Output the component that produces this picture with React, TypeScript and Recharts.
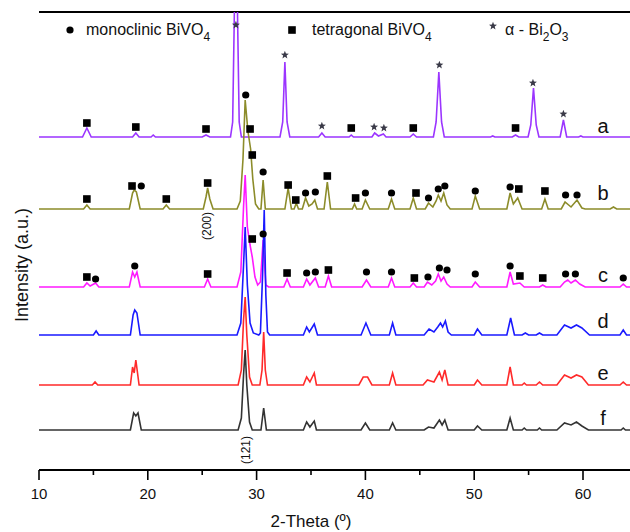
import React from "react";
import { ComposedChart, Line, Scatter, XAxis, YAxis, ReferenceLine } from "recharts";

// 2-Theta positions (deg) and peak heights above each pattern's own baseline (a.u.)
const PATTERN_A: [number, number][] = [
  [10, 0], [14.0, 0], [14.4, 9], [14.8, 0], [18.6, 0], [18.9, 4], [19.2, 0], [20.3, 0], [20.5, 2], [20.7, 0],
  [25.0, 0], [25.35, 2], [25.7, 0], [27.6, 0], [27.8, 15], [27.95, 120], [28.1, 260], [28.25, 120], [28.4, 15], [28.6, 0],
  [32.15, 0], [32.4, 15], [32.6, 75], [32.8, 15], [33.05, 0], [35.7, 0], [36.0, 4], [36.3, 0], [38.5, 0], [38.7, 2], [38.9, 0],
  [40.6, 0], [40.85, 4], [41.2, 1], [41.65, 3], [41.9, 0], [44.1, 0], [44.4, 3], [44.7, 0],
  [46.25, 0], [46.5, 15], [46.75, 65], [47.0, 15], [47.25, 0], [51.5, 0], [51.7, 1], [51.9, 0], [53.5, 0], [53.8, 2], [54.1, 0],
  [54.95, 0], [55.2, 12], [55.45, 49], [55.7, 12], [55.95, 0], [57.9, 0], [58.2, 17], [58.5, 0], [59.6, 0], [59.8, 1], [60.0, 0], [65, 0],
];
const PATTERN_B: [number, number][] = [
  [10, 0], [14.1, 0], [14.4, 4], [14.7, 0], [18.3, 0], [18.6, 16], [18.75, 19], [18.95, 17], [19.3, 0],
  [21.4, 0], [21.7, 4], [22.0, 0], [25.1, 0], [25.35, 12], [25.5, 21], [25.7, 10], [26.0, 0],
  [28.2, 0], [28.5, 8], [28.75, 50], [28.95, 109], [29.2, 78], [29.45, 60], [29.65, 30], [29.9, 5], [30.2, 0],
  [30.4, 0], [30.6, 29], [30.8, 0], [32.6, 0], [32.9, 21], [33.2, 0], [33.45, 0], [33.65, 6], [33.85, 0],
  [34.2, 0], [34.5, 11], [34.8, 3], [35.1, 5], [35.35, 9], [35.6, 0], [36.2, 0], [36.5, 27], [36.8, 0],
  [38.8, 0], [39.0, 5], [39.2, 0], [39.7, 0], [40.0, 9], [40.4, 0], [42.1, 0], [42.4, 10], [42.7, 0], [44.1, 0], [44.4, 11], [44.7, 0],
  [45.5, 0], [45.8, 6], [46.2, 2], [46.5, 8], [46.7, 14], [46.95, 8], [47.2, 16], [47.5, 4], [47.8, 0],
  [49.8, 0], [50.1, 13], [50.5, 0], [53.0, 0], [53.3, 16], [53.6, 5], [54.0, 11], [54.4, 0], [56.2, 0], [56.5, 10], [56.8, 0],
  [58.0, 0], [58.35, 7], [58.9, 2], [59.45, 9], [59.9, 1], [60.2, 0], [62.5, 0], [62.8, 2], [63.1, 0], [65, 0],
];
const PATTERN_C: [number, number][] = [
  [10, 0], [14.1, 0], [14.4, 4], [14.7, 1], [15.2, 4], [15.5, 0], [18.3, 0], [18.6, 15], [18.8, 10], [19.0, 15], [19.3, 0],
  [25.2, 0], [25.5, 8], [25.8, 0], [28.2, 0], [28.55, 15], [28.8, 80], [28.95, 112], [29.15, 60], [29.4, 42], [29.6, 30], [29.85, 10], [30.1, 2],
  [30.35, 5], [30.6, 47], [30.85, 2], [31.1, 0], [32.5, 0], [32.8, 8], [33.1, 0],
  [34.3, 0], [34.6, 8], [34.9, 2], [35.4, 9], [35.7, 0], [36.3, 0], [36.6, 11], [36.9, 0],
  [39.7, 0], [40.1, 7], [40.5, 0], [42.1, 0], [42.4, 9], [42.7, 0], [44.1, 0], [44.4, 4], [44.7, 0],
  [45.4, 0], [45.7, 5], [46.1, 2], [46.45, 6], [46.7, 13], [46.95, 6], [47.2, 10], [47.5, 3], [47.8, 0],
  [49.8, 0], [50.1, 5], [50.5, 0], [53.0, 0], [53.3, 15], [53.6, 3], [54.2, 4], [54.6, 0], [56.0, 0], [56.3, 2], [56.6, 0],
  [57.9, 0], [58.3, 5], [58.6, 7], [58.9, 4], [59.3, 7], [59.7, 3], [60.2, 0], [63.4, 0], [63.7, 3], [64.0, 0], [65, 0],
];
const PATTERN_D: [number, number][] = [
  [10, 0], [15.0, 0], [15.25, 4], [15.5, 0], [18.4, 0], [18.65, 20], [18.8, 25], [19.0, 22], [19.3, 0],
  [28.2, 0], [28.55, 12], [28.8, 70], [28.95, 108], [29.15, 50], [29.4, 12], [29.7, 2], [30.2, 0],
  [30.35, 2], [30.55, 60], [30.7, 125], [30.85, 40], [31.0, 3], [31.2, 0],
  [34.3, 0], [34.6, 8], [34.85, 3], [35.3, 11], [35.6, 0], [39.6, 0], [40.05, 12], [40.5, 0], [42.2, 0], [42.5, 12], [42.8, 0],
  [45.4, 0], [45.85, 6], [46.3, 3], [46.65, 8], [46.9, 12], [47.1, 8], [47.35, 14], [47.6, 3], [47.9, 0],
  [50.0, 0], [50.3, 6], [50.7, 0], [53.0, 0], [53.35, 17], [53.7, 0], [54.4, 0], [54.7, 2], [55.0, 0], [55.7, 0], [56.0, 2], [56.3, 0],
  [57.6, 0], [58.3, 10], [58.9, 7], [59.4, 10], [59.9, 7], [60.6, 0], [63.4, 0], [63.7, 5], [64.0, 0], [65, 0],
];
const PATTERN_E: [number, number][] = [
  [10, 0], [14.9, 0], [15.15, 3], [15.4, 0], [18.4, 0], [18.6, 18], [18.75, 12], [18.9, 25], [19.2, 0],
  [28.3, 0], [28.6, 15], [28.8, 65], [28.95, 88], [29.1, 50], [29.35, 8], [29.6, 0],
  [30.3, 0], [30.5, 15], [30.65, 53], [30.8, 15], [31.0, 0],
  [34.3, 0], [34.6, 8], [34.9, 3], [35.3, 12], [35.5, 0], [39.4, 0], [39.8, 8], [40.2, 8], [40.6, 0], [42.2, 0], [42.5, 12], [42.8, 0],
  [45.3, 0], [45.7, 5], [46.0, 4], [46.3, 3], [46.8, 13], [47.05, 5], [47.3, 15], [47.6, 0],
  [50.0, 0], [50.3, 5], [50.7, 0], [53.0, 0], [53.3, 18], [53.6, 0], [54.4, 0], [54.6, 2], [54.8, 0], [55.7, 0], [56.0, 3], [56.3, 0],
  [57.6, 0], [58.3, 10], [58.9, 7], [59.4, 10], [59.9, 8], [60.5, 0], [63.4, 0], [63.7, 3], [64.0, 0], [65, 0],
];
const PATTERN_F: [number, number][] = [
  [10, 0], [18.4, 0], [18.7, 17], [18.9, 14], [19.1, 17], [19.4, 0],
  [28.3, 0], [28.6, 12], [28.8, 55], [28.95, 80], [29.1, 45], [29.35, 8], [29.6, 0],
  [30.4, 0], [30.65, 22], [30.9, 0], [34.3, 0], [34.6, 8], [34.9, 3], [35.3, 9], [35.5, 0],
  [39.6, 0], [40.0, 7], [40.4, 0], [42.2, 0], [42.5, 7], [42.8, 0],
  [45.4, 0], [45.8, 3], [46.3, 2], [46.8, 10], [47.05, 5], [47.3, 10], [47.6, 0],
  [50.0, 0], [50.3, 4], [50.7, 0], [53.0, 0], [53.3, 12], [53.6, 0], [54.4, 0], [54.6, 2], [54.8, 0], [55.8, 0], [56.0, 2], [56.2, 0],
  [57.6, 0], [58.3, 7], [58.9, 5], [59.4, 8], [59.9, 4], [60.5, 0], [63.5, 0], [63.7, 2], [63.9, 0], [65, 0],
];

// vertical stacking offsets of patterns a..f
const OFFSETS = [333, 261, 183, 135, 85, 40];
const LETTERS = ["a", "b", "c", "d", "e", "f"];
const LETTER_Y = [337, 270, 188, 142, 90, 45];
const COLORS = ["#9b35ff", "#8c8c2a", "#ff1aff", "#1a1aff", "#ff2a2a", "#333333"];

// phase markers [2-Theta, height in stacked units]
const STARS: [number, number][] = [
  [28.1, 445], [32.6, 415], [36.0, 344], [40.8, 343], [41.7, 342], [46.8, 405], [55.4, 387], [58.2, 356],
];
const SQUARES: [number, number][] = [
  [14.4, 347], [18.9, 343], [25.35, 341], [29.4, 341], [38.7, 342], [44.4, 342], [53.8, 342],
  [14.4, 271], [18.55, 284], [21.7, 271], [25.5, 287], [29.6, 315], [32.9, 285], [33.6, 270], [36.5, 294], [39.1, 272], [44.65, 277], [54.1, 281], [56.5, 279],
  [14.4, 193], [25.5, 196], [29.6, 231], [32.8, 197], [36.6, 200], [44.5, 192], [54.2, 194], [56.3, 192],
];
const DOTS: [number, number][] = [
  [19.4, 284], [29.0, 375], [30.6, 298], [34.5, 277], [35.4, 278], [40.0, 277], [42.4, 277], [45.8, 272], [46.7, 281], [47.3, 284], [50.1, 279], [53.3, 283], [58.4, 275], [59.45, 275],
  [15.2, 191], [18.8, 204], [30.6, 236], [34.6, 197], [35.4, 198], [40.1, 198], [42.4, 198], [45.75, 193], [46.8, 202], [47.5, 200], [50.1, 196], [53.3, 204], [58.4, 196], [59.3, 196], [63.7, 192],
];
const ANNOTATIONS: { x: number; y: number; t: string }[] = [
  { x: 25.44, y: 244, t: "(200)" },
  { x: 29.07, y: 20, t: "(121)" },
];
const X_TICKS = [10, 15, 20, 25, 30, 35, 40, 45, 50, 55, 60];

const PATTERNS = [PATTERN_A, PATTERN_B, PATTERN_C, PATTERN_D, PATTERN_E, PATTERN_F];
const FONT = "'Liberation Sans', Arial, sans-serif";

const rows = (pts: [number, number][], off = 0) => pts.map(([x, h]) => ({ x, y: h + off }));

const AxisTick = (props: any) => {
  const { x, y, payload } = props;
  const major = payload.value % 10 === 0;
  return (
    <g>
      <line x1={x} y1={y} x2={x} y2={y + (major ? 10 : 5)} stroke="#000" strokeWidth={1.6} />
      {major && (
        <text x={x} y={y + 29} textAnchor="middle" fontSize={15} fontFamily={FONT} fill="#111">
          {payload.value}
        </text>
      )}
    </g>
  );
};

const starPoints = (cx: number, cy: number, R: number, r: number) => {
  const p: string[] = [];
  for (let i = 0; i < 10; i++) {
    const a = -Math.PI / 2 + (i * Math.PI) / 5;
    const rad = i % 2 === 0 ? R : r;
    p.push(`${cx + rad * Math.cos(a)},${cy + rad * Math.sin(a)}`);
  }
  return p.join(" ");
};

const DotShape = (p: any) => <circle cx={p.cx} cy={p.cy} r={3.6} fill="#000" />;
const SquareShape = (p: any) => <rect x={p.cx - 3.8} y={p.cy - 3.8} width={7.6} height={7.6} fill="#000" />;
const StarShape = (p: any) => <polygon points={starPoints(p.cx, p.cy, 4.2, 1.8)} fill="#3a3a48" />;
const LetterShape = (p: any) => (
  <text x={p.cx} y={p.cy} textAnchor="middle" fontSize={20} fontFamily={FONT} fill="#111">
    {p.payload.t}
  </text>
);
const AnnoShape = (p: any) => (
  <text
    x={p.cx}
    y={p.cy}
    transform={`rotate(-90 ${p.cx} ${p.cy})`}
    textAnchor="middle"
    dominantBaseline="central"
    fontSize={12}
    fontFamily={FONT}
    fill="#111"
  >
    {p.payload.t}
  </text>
);

export default function App() {
  const letterData = LETTERS.map((t, i) => ({ x: 61.84, y: LETTER_Y[i], t }));
  return (
    <div style={{ position: "absolute", left: 0, top: 0, width: 630, height: 532, overflow: "hidden", background: "#fff" }}>
      <ComposedChart width={640} height={532} margin={{ top: 12, right: 2.6, left: 39, bottom: 0 }}>
        <XAxis
          type="number"
          dataKey="x"
          domain={[10, 65]}
          allowDataOverflow
          ticks={X_TICKS}
          interval={0}
          tickSize={0}
          tickMargin={0}
          tick={<AxisTick />}
          tickLine={false}
          axisLine={{ stroke: "#000", strokeWidth: 1.8 }}
          height={62}
        />
        <YAxis
          type="number"
          dataKey="y"
          domain={[0, 458]}
          allowDataOverflow
          width={0}
          tick={false}
          tickLine={false}
          axisLine={{ stroke: "#000", strokeWidth: 1.8 }}
        />
        <ReferenceLine y={458} stroke="#000" strokeWidth={2} ifOverflow="visible" />
        {PATTERNS.map((pts, i) => (
          <Line
            key={LETTERS[i]}
            data={rows(pts, OFFSETS[i])}
            dataKey="y"
            type="linear"
            stroke={COLORS[i]}
            strokeWidth={1.6}
            dot={false}
            isAnimationActive={false}
          />
        ))}
        <Scatter data={rows(STARS)} dataKey="y" shape={StarShape} isAnimationActive={false} />
        <Scatter data={rows(SQUARES)} dataKey="y" shape={SquareShape} isAnimationActive={false} />
        <Scatter data={rows(DOTS)} dataKey="y" shape={DotShape} isAnimationActive={false} />
        <Scatter data={letterData} dataKey="y" shape={LetterShape} isAnimationActive={false} />
        <Scatter data={ANNOTATIONS} dataKey="y" shape={AnnoShape} isAnimationActive={false} />
      </ComposedChart>
      <svg width={630} height={532} style={{ position: "absolute", left: 0, top: 0, pointerEvents: "none" }}>
        <g fontFamily={FONT} fill="#111">
          <circle cx={70} cy={30} r={3.6} fill="#000" />
          <text x={86} y={35} fontSize={16}>
            monoclinic BiVO<tspan fontSize={12} dy={6}>4</tspan>
          </text>
          <rect x={288.2} y={26.2} width={7.6} height={7.6} fill="#000" />
          <text x={312} y={35} fontSize={16}>
            tetragonal BiVO<tspan fontSize={12} dy={6}>4</tspan>
          </text>
          <polygon points={starPoints(493, 26, 4.2, 1.8)} fill="#3a3a48" />
          <text x={505} y={35} fontSize={16}>
            α - Bi<tspan fontSize={12} dy={6}>2</tspan>
            <tspan dy={-6}>O</tspan>
            <tspan fontSize={12} dy={6}>3</tspan>
          </text>
          <text x={311} y={527} fontSize={17} textAnchor="middle">
            2-Theta (º)
          </text>
          <text x={28} y={265} fontSize={18} textAnchor="middle" transform="rotate(-90 28 265)">
            Intensity (a.u.)
          </text>
        </g>
      </svg>
    </div>
  );
}
